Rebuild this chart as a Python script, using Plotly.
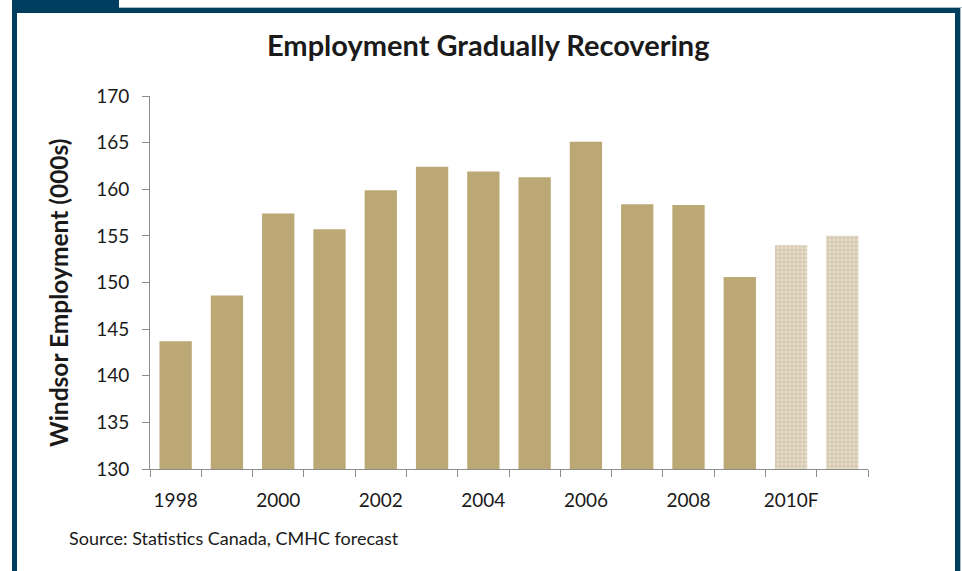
import plotly.graph_objects as go

years = ["1998", "1999", "2000", "2001", "2002", "2003", "2004", "2005",
         "2006", "2007", "2008", "2009", "2010F", "2011F"]
tick_text = ["1998", "", "2000", "", "2002", "", "2004", "", "2006", "", "2008", "", "2010F", ""]
employment = [143.7, 148.6, 157.4, 155.7, 159.9, 162.4, 161.9, 161.3,
              165.1, 158.4, 158.3, 150.6, 154.0, 155.0]
forecast = [False] * 12 + [True] * 2

W, H = 962, 571
L, R, T, B = 150, 94, 96, 102
PW, PH = W - L - R, H - T - B

def px(x):
    return (x - L) / PW

def py(y):
    return (H - B - y) / PH

FONT = "Lato, 'Open Sans', sans-serif"
BLUE = "#003e60"

fig = go.Figure()
fig.add_trace(go.Bar(
    x=[y for y, f in zip(years, forecast) if not f],
    y=[v for v, f in zip(employment, forecast) if not f],
    marker=dict(color="#bba875", line=dict(width=0)),
    hoverinfo="x+y", showlegend=False,
))
fig.add_trace(go.Bar(
    x=[y for y, f in zip(years, forecast) if f],
    y=[v for v, f in zip(employment, forecast) if f],
    marker=dict(color="#e2d7c2", line=dict(width=0),
                pattern=dict(shape="+", fgcolor="#b8a785", bgcolor="#e6ddcb",
                             size=4, solidity=0.4)),
    hoverinfo="x+y", showlegend=False,
))

shapes = [
    dict(type="rect", xref="paper", yref="paper", x0=px(12), x1=px(17), y0=py(8), y1=py(H + 5),
         fillcolor=BLUE, line=dict(width=0), layer="above"),
    dict(type="rect", xref="paper", yref="paper", x0=px(12), x1=px(960), y0=py(13), y1=py(8),
         fillcolor=BLUE, line=dict(width=0), layer="above"),
    dict(type="rect", xref="paper", yref="paper", x0=px(12), x1=px(119), y0=py(13), y1=py(-5),
         fillcolor=BLUE, line=dict(width=0), layer="above"),
    dict(type="rect", xref="paper", yref="paper", x0=px(955), x1=px(960), y0=py(8), y1=py(H + 5),
         fillcolor=BLUE, line=dict(width=0), layer="above"),
    dict(type="line", xref="paper", yref="paper", x0=px(119), x1=px(962), y0=py(7.5), y1=py(7.5),
         line=dict(color="#a9bac8", width=1), layer="above"),
    dict(type="line", xref="paper", yref="paper", x0=px(960.5), x1=px(960.5), y0=py(8), y1=py(H + 5),
         line=dict(color="#a9bac8", width=1), layer="above"),
]

annotations = [
    dict(text="<b>Employment Gradually Recovering</b>", xref="paper", yref="paper",
         x=px(488), y=py(45), xanchor="center", yanchor="middle", showarrow=False,
         font=dict(family=FONT, size=29, color="#1a1a1a")),
    dict(text="Source: Statistics Canada, CMHC forecast", xref="paper", yref="paper",
         x=px(67), y=py(538), xanchor="left", yanchor="middle", showarrow=False,
         font=dict(family=FONT, size=18, color="#1a1a1a")),
    dict(text="<b>Windsor Employment (000s)</b>", xref="paper", yref="paper",
         x=px(58), y=py(293), xanchor="center", yanchor="middle", showarrow=False,
         textangle=-90, font=dict(family=FONT, size=24.5, color="#1a1a1a")),
]

fig.update_layout(
    width=W, height=H,
    margin=dict(l=L, r=R, t=T, b=B, autoexpand=False),
    paper_bgcolor="white", plot_bgcolor="white",
    bargap=0.37, barmode="overlay",
    shapes=shapes, annotations=annotations,
    font=dict(family=FONT, size=18, color="#1a1a1a"),
    xaxis=dict(
        type="category", categoryorder="array", categoryarray=years,
        tickmode="array", tickvals=years, ticktext=tick_text, tickangle=0,
        tickson="boundaries", ticks="outside", ticklen=7, tickcolor="#8c8c8c",
        showline=True, linecolor="#8c8c8c", linewidth=1, showgrid=False,
        ticklabelstandoff=14, automargin=False,
        tickfont=dict(family=FONT, size=19, color="#1a1a1a"),
        range=[-0.5, 13.5],
    ),
    yaxis=dict(
        range=[130, 170], dtick=5, tick0=130, ticks="outside", ticklen=7,
        tickcolor="#8c8c8c", showline=True, linecolor="#8c8c8c", linewidth=1,
        showgrid=False, zeroline=False, ticklabelstandoff=9, automargin=False,
        tickfont=dict(family=FONT, size=19, color="#1a1a1a"),
    ),
)

fig.write_html("out.html", config={"displayModeBar": False},
               post_script="document.body.style.margin='0';document.body.style.overflow='hidden';")
